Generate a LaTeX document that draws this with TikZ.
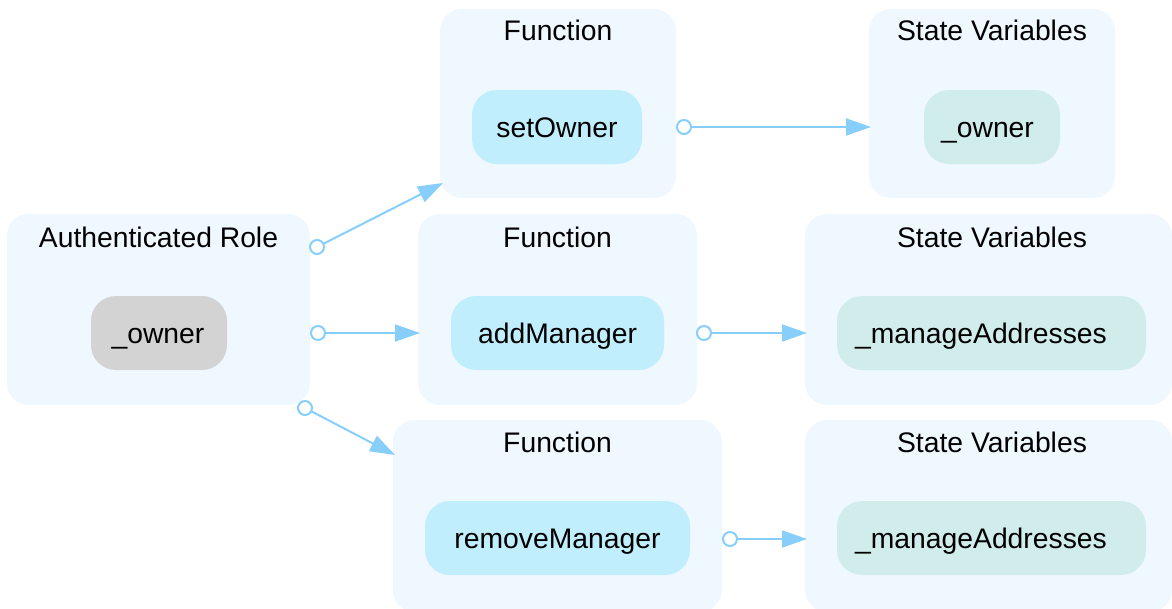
\documentclass[tikz,border=0pt]{standalone}
\usepackage{fontspec}
\setmainfont{Liberation Sans}
\usetikzlibrary{arrows.meta}
\definecolor{clfill}{HTML}{EFF7FF}
\definecolor{fnfill}{HTML}{C1EEFD}
\definecolor{svfill}{HTML}{D0EDEC}
\definecolor{rolefill}{HTML}{D3D3D3}
\definecolor{edgecol}{HTML}{87CEFA}
\tikzset{
  cluster/.style={fill=clfill, draw=none, rounded corners=22pt, inner sep=0pt},
  title/.style={font=\fontsize{28.3}{32}\selectfont, text height=20pt, text depth=0pt, inner sep=0pt},
  inner/.style={draw=none, rounded corners=25pt, inner sep=0pt, minimum height=74pt,
     font=\fontsize{28.3}{32}\selectfont, text height=20pt, text depth=0pt},
  fn/.style={inner, fill=fnfill},
  sv/.style={inner, fill=svfill},
  role/.style={inner, fill=rolefill},
  link/.style={draw=edgecol, line width=2pt,
     {Circle[open, length=16pt, width=16pt, line width=2pt]}-{Triangle[length=25pt, width=17pt]}}
}
\begin{document}
\begin{tikzpicture}[x=1pt, y=-1pt]
\useasboundingbox (0,0) rectangle (1172,608);
% clusters
\node[cluster, minimum width=303pt, minimum height=191pt] (auth) at (158.5,309.5) {};
\node[cluster, minimum width=236pt, minimum height=189pt] (f1) at (558,103.5) {};
\node[cluster, minimum width=246pt, minimum height=189pt] (s1) at (992,103.5) {};
\node[cluster, minimum width=279pt, minimum height=191pt] (f2) at (557.5,309.5) {};
\node[cluster, minimum width=367pt, minimum height=191pt] (s2) at (988.5,309.5) {};
\node[cluster, minimum width=329pt, minimum height=192pt] (f3) at (557.5,516) {};
\node[cluster, minimum width=367pt, minimum height=192pt] (s3) at (988.5,516) {};
% titles
\node[title] (tauth) at (158.5,237) {Authenticated Role};
\node[title] (tf1) at (558,30) {Function};
\node[title] (ts1) at (992,30) {State Variables};
\node[title] (tf2) at (557.5,237) {Function};
\node[title] (ts2) at (992,237) {State Variables};
\node[title] (tf3) at (557.5,442) {Function};
\node[title] (ts3) at (992,442) {State Variables};
% inner nodes
\node[role, minimum width=136pt] (owner) at (159,333) {\_owner\hspace*{2pt}};
\node[fn, minimum width=170pt] (setOwner) at (557,127) {setOwner};
\node[sv, minimum width=136pt] (sowner) at (992,127) {\_owner\hspace*{9pt}};
\node[fn, minimum width=213pt] (addManager) at (557.5,333) {addManager};
\node[sv, minimum width=309pt] (ma2) at (991.5,333) {\_manageAddresses\hspace*{21pt}};
\node[fn, minimum width=265pt] (removeManager) at (557.5,538) {removeManager};
\node[sv, minimum width=309pt] (ma3) at (991.5,538) {\_manageAddresses\hspace*{21pt}};
% edge endpoints
\coordinate (e1s) at (309.9,250.6);
\coordinate (e1e) at (443,183);
\coordinate (e2s) at (310,333);
\coordinate (e2e) at (420,333);
\coordinate (e3s) at (297.9,404.3);
\coordinate (e3e) at (395,455);
\coordinate (e4s) at (676,127);
\coordinate (e4e) at (871,127);
\coordinate (e5s) at (696,333);
\coordinate (e5e) at (807,333);
\coordinate (e6s) at (722,539);
\coordinate (e6e) at (807,539);
\draw[link] (e1s) -- (e1e);
\draw[link] (e2s) -- (e2e);
\draw[link] (e3s) -- (e3e);
\draw[link] (e4s) -- (e4e);
\draw[link] (e5s) -- (e5e);
\draw[link] (e6s) -- (e6e);
\end{tikzpicture}
\end{document}
